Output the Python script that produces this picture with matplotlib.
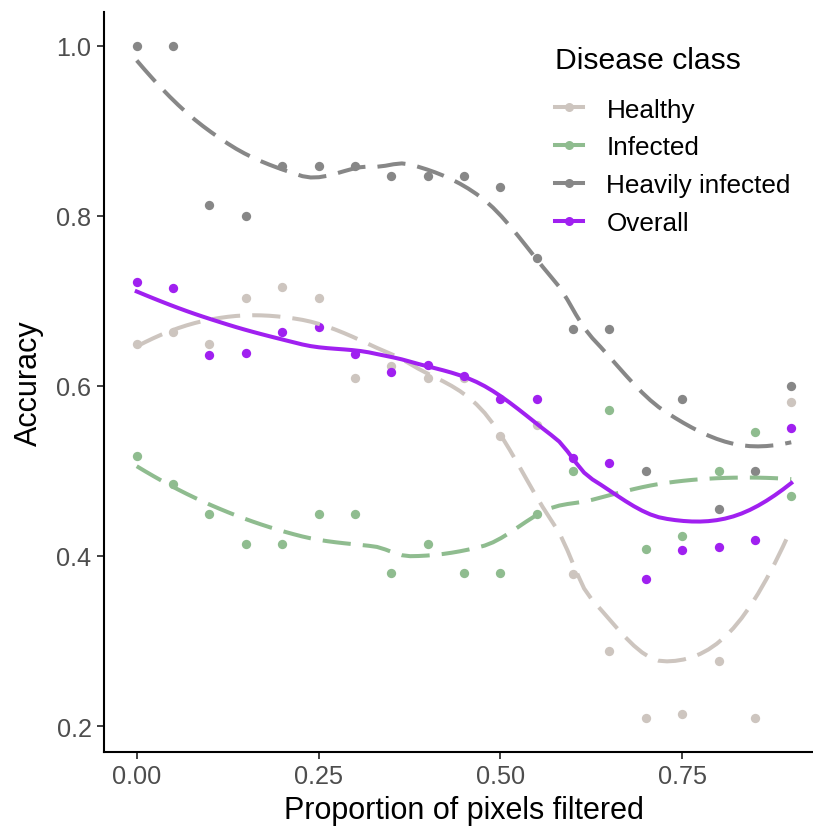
import numpy as np
import matplotlib
matplotlib.use("Agg")
import matplotlib.pyplot as plt
from matplotlib.lines import Line2D

plt.rcParams['font.family'] = ['Liberation Sans', 'DejaVu Sans']

# ---- data ----
proportion = [0.00, 0.05, 0.10, 0.15, 0.20, 0.25, 0.30, 0.35, 0.40, 0.45,
              0.50, 0.55, 0.60, 0.65, 0.70, 0.75, 0.80, 0.85, 0.90]
healthy = [0.649, 0.663, 0.649, 0.703, 0.716, 0.703, 0.609, 0.623, 0.609, 0.609,
           0.541, 0.554, 0.379, 0.288, 0.209, 0.214, 0.276, 0.209, 0.581]
infected = [0.518, 0.484, 0.449, 0.414, 0.414, 0.449, 0.449, 0.380, 0.414, 0.380,
            0.380, 0.449, 0.500, 0.572, 0.408, 0.424, 0.500, 0.546, 0.471]
heavily = [1.000, 1.000, 0.813, 0.800, 0.858, 0.858, 0.858, 0.847, 0.847, 0.847,
           0.834, 0.750, 0.667, 0.667, 0.500, 0.584, 0.455, 0.500, 0.600]
overall = [0.722, 0.715, 0.636, 0.639, 0.663, 0.669, 0.638, 0.616, 0.625, 0.611,
           0.585, 0.585, 0.515, 0.509, 0.373, 0.407, 0.410, 0.419, 0.551]

classes = ["Healthy", "Infected", "Heavily infected", "Overall"]
colors = ["#CDC5BF", "#8FBC8F", "#878787", "#A020F0"]
series = [healthy, infected, heavily, overall]
dashed = [True, True, True, False]


def local_fit(x, y, x0, span=0.75):
    n = len(x)
    q = int(np.floor(n * span))
    d = np.abs(x - x0)
    h = np.sort(d)[q - 1]
    u = np.clip(d / h, 0, 1)
    w = (1 - u ** 3) ** 3
    X = np.vstack([np.ones(n), x - x0, (x - x0) ** 2]).T
    A = X.T @ (w[:, None] * X)
    b = X.T @ (w * y)
    beta = np.linalg.solve(A, b)
    return beta[0], beta[1]


def kd_vertices(xsorted, fc):
    verts = []

    def split(pts):
        if len(pts) <= fc:
            return
        m = (len(pts) + 1) // 2
        v = (pts[m - 1] + pts[m]) / 2.0
        verts.append(v)
        split(pts[:m])
        split(pts[m:])

    split(list(xsorted))
    return verts


def loess(x, y, xs, span=0.75):
    # R-style loess: local quadratic fits at kd-tree vertices + cubic Hermite interpolation
    x = np.asarray(x, float)
    y = np.asarray(y, float)
    n = len(x)
    fc = int(np.floor(n * span * 0.2))
    rng = x.max() - x.min()
    t = 0.005 * rng
    verts = [x.min() - t, x.max() + t] + kd_vertices(np.sort(x), fc)
    verts = np.array(sorted(set(verts)))
    vals, slopes = zip(*[local_fit(x, y, v, span) for v in verts])
    vals = np.array(vals)
    slopes = np.array(slopes)
    out = []
    for x0 in xs:
        i = np.searchsorted(verts, x0) - 1
        i = min(max(i, 0), len(verts) - 2)
        x1, x2 = verts[i], verts[i + 1]
        hh = x2 - x1
        s = (x0 - x1) / hh
        h00 = 2 * s ** 3 - 3 * s ** 2 + 1
        h10 = s ** 3 - 2 * s ** 2 + s
        h01 = -2 * s ** 3 + 3 * s ** 2
        h11 = s ** 3 - s ** 2
        out.append(h00 * vals[i] + h10 * hh * slopes[i]
                   + h01 * vals[i + 1] + h11 * hh * slopes[i + 1])
    return np.array(out)


W, H = 813, 828
fig = plt.figure(figsize=(W / 100, H / 100), dpi=100)
left, right, top, bottom = 104, 824, 13, 753
ax = fig.add_axes([left / W, 1 - bottom / H, (right - left) / W, (bottom - top) / H])

x = np.array(proportion)
for ys, c in zip(series, colors):
    ax.scatter(x, ys, s=45, color=c, zorder=2, linewidths=0)

xs = np.linspace(x.min(), x.max(), 80)
for ys, c, d in zip(series, colors, dashed):
    sm = loess(x, ys, xs)
    if d:
        ax.plot(xs, sm, color=c, lw=2.9, linestyle=(0, (7, 3)), zorder=3,
                dash_capstyle='butt')
    else:
        ax.plot(xs, sm, color=c, lw=2.9, zorder=3)

ax.set_xlim(-0.045, 0.945)
ax.set_ylim(0.1695, 1.0395)
ax.set_xticks([0.0, 0.25, 0.5, 0.75])
ax.set_xticklabels(["0.00", "0.25", "0.50", "0.75"])
ax.set_yticks([0.2, 0.4, 0.6, 0.8, 1.0])
ax.set_yticklabels(["0.2", "0.4", "0.6", "0.8", "1.0"])
for s in ["top", "right"]:
    ax.spines[s].set_visible(False)
for s in ["left", "bottom"]:
    ax.spines[s].set_linewidth(1.5)
    ax.spines[s].set_color("black")
ax.tick_params(axis="both", labelsize=18.2, labelcolor="#4D4D4D", length=5,
               width=1.3, color="#333333", pad=4)
ax.set_xlabel("Proportion of pixels filtered", fontsize=22, labelpad=5)
ax.set_ylabel("Accuracy", fontsize=22, labelpad=9)

handles = [Line2D([0], [0], color=c, lw=2.9, marker="o", markersize=6.5,
                  markeredgewidth=0) for c in colors]
leg = fig.legend(handles, classes, loc="upper left",
                 bbox_to_anchor=(555 / W, 1 - 47 / H), frameon=False,
                 title="Disease class", fontsize=18.8, title_fontsize=21.7,
                 handlelength=1.07, handletextpad=0.9, labelspacing=0.53,
                 borderpad=0, borderaxespad=0, alignment="left")
leg._legend_box.sep = 17

fig.savefig("out.png", dpi=100)
